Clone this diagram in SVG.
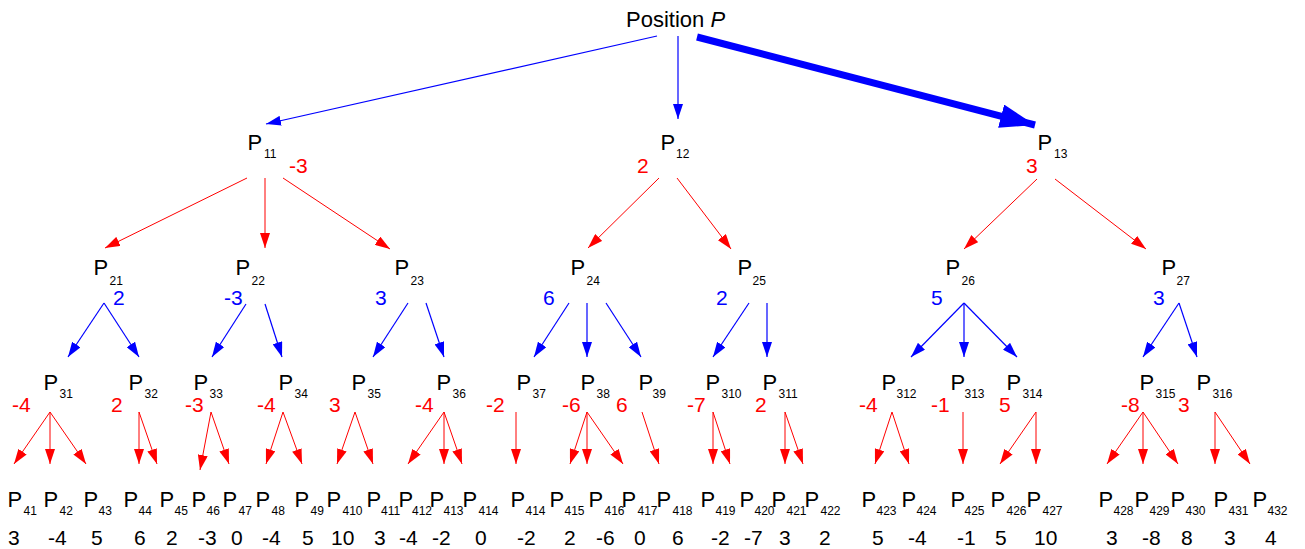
<svg xmlns="http://www.w3.org/2000/svg" width="1305" height="549" viewBox="0 0 1305 549">
<style>
text{font-family:"Liberation Sans",Arial,Helvetica,sans-serif}
.t{font-size:22px;fill:#000}
.p{font-size:22px;fill:#000}
.s{font-size:12px;fill:#000}
.vr{font-size:21px;fill:#f00}
.vb{font-size:21px;fill:#00f}
.vk{font-size:21px;fill:#000}
.lr{stroke:#f00;stroke-width:1;fill:none;marker-end:url(#ar)}
.lb{stroke:#00f;stroke-width:1.2;fill:none;marker-end:url(#ab)}
.lbig{stroke:#00f;stroke-width:7;fill:none;marker-end:url(#abig)}
</style>
<defs>
<marker id="ar" markerWidth="16" markerHeight="10" refX="15" refY="5" orient="auto" markerUnits="userSpaceOnUse"><path d="M0,0 L15,5 L0,10 z" fill="#f00"/></marker>
<marker id="ab" markerWidth="16" markerHeight="10" refX="15" refY="5" orient="auto" markerUnits="userSpaceOnUse"><path d="M0,0 L15,5 L0,10 z" fill="#00f"/></marker>
<marker id="abig" markerWidth="36" markerHeight="24" refX="35" refY="12" orient="auto" markerUnits="userSpaceOnUse"><path d="M0,0 L35,12 L0,24 z" fill="#00f"/></marker>
</defs>
<rect width="1305" height="549" fill="#fff"/>
<g id="connectors">
<line class="lb" x1="657" y1="36" x2="266" y2="124"/>
<line class="lb" x1="678" y1="36" x2="678" y2="119"/>
<line class="lbig" x1="697" y1="37" x2="1035" y2="125"/>
<line class="lr" x1="247" y1="178" x2="105" y2="248"/>
<line class="lr" x1="265" y1="178" x2="265" y2="248"/>
<line class="lr" x1="283" y1="178" x2="390" y2="249"/>
<line class="lr" x1="659" y1="178" x2="588" y2="248"/>
<line class="lr" x1="677" y1="178" x2="731" y2="249"/>
<line class="lr" x1="1037" y1="179" x2="964" y2="249"/>
<line class="lr" x1="1055" y1="179" x2="1146" y2="249"/>
<line class="lb" x1="104" y1="303" x2="68" y2="357"/>
<line class="lb" x1="104" y1="303" x2="139" y2="357"/>
<line class="lb" x1="246" y1="304" x2="212" y2="357"/>
<line class="lb" x1="265" y1="304" x2="282" y2="357"/>
<line class="lb" x1="408" y1="303" x2="373" y2="357"/>
<line class="lb" x1="426" y1="303" x2="444" y2="357"/>
<line class="lb" x1="569" y1="303" x2="534" y2="357"/>
<line class="lb" x1="587" y1="303" x2="587" y2="357"/>
<line class="lb" x1="606" y1="303" x2="641" y2="357"/>
<line class="lb" x1="749" y1="303" x2="713" y2="357"/>
<line class="lb" x1="767" y1="303" x2="767" y2="357"/>
<line class="lb" x1="964" y1="303" x2="911" y2="357"/>
<line class="lb" x1="964" y1="303" x2="964" y2="357"/>
<line class="lb" x1="964" y1="303" x2="1017" y2="357"/>
<line class="lb" x1="1179" y1="303" x2="1143" y2="357"/>
<line class="lb" x1="1179" y1="303" x2="1197" y2="357"/>
<line class="lr" x1="50" y1="412" x2="14" y2="464"/>
<line class="lr" x1="50" y1="412" x2="50" y2="464"/>
<line class="lr" x1="50" y1="412" x2="86" y2="464"/>
<line class="lr" x1="139" y1="412" x2="139" y2="464"/>
<line class="lr" x1="139" y1="412" x2="157" y2="464"/>
<line class="lr" x1="211" y1="412" x2="200" y2="470"/>
<line class="lr" x1="211" y1="412" x2="229" y2="464"/>
<line class="lr" x1="283" y1="412" x2="266" y2="464"/>
<line class="lr" x1="283" y1="412" x2="302" y2="464"/>
<line class="lr" x1="355" y1="412" x2="337" y2="464"/>
<line class="lr" x1="355" y1="412" x2="373" y2="464"/>
<line class="lr" x1="444" y1="412" x2="408" y2="464"/>
<line class="lr" x1="444" y1="412" x2="444" y2="464"/>
<line class="lr" x1="444" y1="412" x2="462" y2="464"/>
<line class="lr" x1="516" y1="412" x2="516" y2="464"/>
<line class="lr" x1="587" y1="412" x2="570" y2="464"/>
<line class="lr" x1="587" y1="412" x2="587" y2="464"/>
<line class="lr" x1="587" y1="412" x2="623" y2="464"/>
<line class="lr" x1="642" y1="412" x2="659" y2="464"/>
<line class="lr" x1="713" y1="412" x2="713" y2="464"/>
<line class="lr" x1="713" y1="412" x2="730" y2="464"/>
<line class="lr" x1="785" y1="412" x2="785" y2="464"/>
<line class="lr" x1="785" y1="412" x2="803" y2="464"/>
<line class="lr" x1="892" y1="412" x2="875" y2="464"/>
<line class="lr" x1="892" y1="412" x2="909" y2="464"/>
<line class="lr" x1="963" y1="412" x2="963" y2="464"/>
<line class="lr" x1="1036" y1="412" x2="1000" y2="464"/>
<line class="lr" x1="1036" y1="412" x2="1036" y2="464"/>
<line class="lr" x1="1143" y1="412" x2="1107" y2="464"/>
<line class="lr" x1="1143" y1="412" x2="1143" y2="464"/>
<line class="lr" x1="1143" y1="412" x2="1178" y2="464"/>
<line class="lr" x1="1215" y1="412" x2="1215" y2="464"/>
<line class="lr" x1="1215" y1="412" x2="1250" y2="464"/>
</g>
<g id="root"><text class="t" x="626" y="27">Position <tspan font-style="italic">P</tspan></text></g>
<g id="P11"><text class="p" x="247.5" y="150">P</text><text class="s" x="264" y="158">11</text><text class="vr" x="289" y="173">-3</text></g>
<g id="P12"><text class="p" x="660.5" y="150">P</text><text class="s" x="676" y="158">12</text><text class="vr" x="637" y="173">2</text></g>
<g id="P13"><text class="p" x="1037.5" y="150">P</text><text class="s" x="1054" y="158">13</text><text class="vr" x="1026" y="173">3</text></g>
<g id="P21"><text class="p" x="93.5" y="275">P</text><text class="s" x="109.5" y="285">21</text><text class="vb" x="113" y="305">2</text></g>
<g id="P22"><text class="p" x="235.5" y="275">P</text><text class="s" x="251.5" y="285">22</text><text class="vb" x="224" y="305">-3</text></g>
<g id="P23"><text class="p" x="394.5" y="275">P</text><text class="s" x="410.5" y="285">23</text><text class="vb" x="375" y="305">3</text></g>
<g id="P24"><text class="p" x="570.5" y="275">P</text><text class="s" x="586.5" y="285">24</text><text class="vb" x="543" y="305">6</text></g>
<g id="P25"><text class="p" x="737.5" y="275">P</text><text class="s" x="752.5" y="285">25</text><text class="vb" x="716" y="305">2</text></g>
<g id="P26"><text class="p" x="945.5" y="275">P</text><text class="s" x="961.5" y="285">26</text><text class="vb" x="931" y="305">5</text></g>
<g id="P27"><text class="p" x="1161.5" y="275">P</text><text class="s" x="1176.5" y="285">27</text><text class="vb" x="1153" y="305">3</text></g>
<g id="P31"><text class="p" x="43.5" y="390">P</text><text class="s" x="59.5" y="398">31</text><text class="vr" x="12" y="412">-4</text></g>
<g id="P32"><text class="p" x="128.5" y="390">P</text><text class="s" x="144.5" y="398">32</text><text class="vr" x="111" y="412">2</text></g>
<g id="P33"><text class="p" x="193.5" y="390">P</text><text class="s" x="209.5" y="398">33</text><text class="vr" x="185" y="412">-3</text></g>
<g id="P34"><text class="p" x="278.5" y="390">P</text><text class="s" x="294.5" y="398">34</text><text class="vr" x="257" y="412">-4</text></g>
<g id="P35"><text class="p" x="351.5" y="390">P</text><text class="s" x="367.5" y="398">35</text><text class="vr" x="329" y="412">3</text></g>
<g id="P36"><text class="p" x="436.5" y="390">P</text><text class="s" x="452.5" y="398">36</text><text class="vr" x="415" y="412">-4</text></g>
<g id="P37"><text class="p" x="516.5" y="390">P</text><text class="s" x="532.5" y="398">37</text><text class="vr" x="486" y="412">-2</text></g>
<g id="P38"><text class="p" x="580.5" y="390">P</text><text class="s" x="596.5" y="398">38</text><text class="vr" x="562" y="412">-6</text></g>
<g id="P39"><text class="p" x="638.5" y="390">P</text><text class="s" x="652.5" y="398">39</text><text class="vr" x="616" y="412">6</text></g>
<g id="P310"><text class="p" x="705.5" y="390">P</text><text class="s" x="721.5" y="398">310</text><text class="vr" x="687" y="412">-7</text></g>
<g id="P311"><text class="p" x="762.5" y="390">P</text><text class="s" x="778.5" y="398">311</text><text class="vr" x="755" y="412">2</text></g>
<g id="P312"><text class="p" x="881.5" y="390">P</text><text class="s" x="896.5" y="398">312</text><text class="vr" x="859" y="412">-4</text></g>
<g id="P313"><text class="p" x="950.5" y="390">P</text><text class="s" x="964.5" y="398">313</text><text class="vr" x="931" y="412">-1</text></g>
<g id="P314"><text class="p" x="1006.5" y="390">P</text><text class="s" x="1022.5" y="398">314</text><text class="vr" x="999" y="412">5</text></g>
<g id="P315"><text class="p" x="1139.5" y="390">P</text><text class="s" x="1155.5" y="398">315</text><text class="vr" x="1121" y="412">-8</text></g>
<g id="P316"><text class="p" x="1196.5" y="390">P</text><text class="s" x="1212.5" y="398">316</text><text class="vr" x="1178" y="412">3</text></g>
<g id="P41"><text class="p" x="7.5" y="507">P</text><text class="s" x="23.5" y="515">41</text><text class="vk" x="8" y="545">3</text></g>
<g id="P42"><text class="p" x="43.5" y="507">P</text><text class="s" x="59.5" y="515">42</text><text class="vk" x="48" y="545">-4</text></g>
<g id="P43"><text class="p" x="83.5" y="507">P</text><text class="s" x="98.5" y="515">43</text><text class="vk" x="91" y="545">5</text></g>
<g id="P44"><text class="p" x="123.5" y="507">P</text><text class="s" x="138.5" y="515">44</text><text class="vk" x="134" y="545">6</text></g>
<g id="P45"><text class="p" x="159.5" y="507">P</text><text class="s" x="174.5" y="515">45</text><text class="vk" x="166" y="545">2</text></g>
<g id="P46"><text class="p" x="191.5" y="507">P</text><text class="s" x="206.5" y="515">46</text><text class="vk" x="198" y="545">-3</text></g>
<g id="P47"><text class="p" x="222.5" y="507">P</text><text class="s" x="238.5" y="515">47</text><text class="vk" x="231" y="545">0</text></g>
<g id="P48"><text class="p" x="255.5" y="507">P</text><text class="s" x="271.5" y="515">48</text><text class="vk" x="262" y="545">-4</text></g>
<g id="P49"><text class="p" x="294.5" y="507">P</text><text class="s" x="310.5" y="515">49</text><text class="vk" x="302" y="545">5</text></g>
<g id="P410"><text class="p" x="326.5" y="507">P</text><text class="s" x="342.5" y="515">410</text><text class="vk" x="331" y="545">10</text></g>
<g id="P411"><text class="p" x="366.5" y="507">P</text><text class="s" x="381" y="515" font-size="10.5">411</text><text class="vk" x="374" y="545">3</text></g>
<g id="P412"><text class="p" x="398.5" y="507">P</text><text class="s" x="412" y="515" font-size="10.5">412</text><text class="vk" x="399" y="545">-4</text></g>
<g id="P413"><text class="p" x="429.5" y="507">P</text><text class="s" x="443.5" y="515" font-size="10.5">413</text><text class="vk" x="432" y="545">-2</text></g>
<g id="P414a"><text class="p" x="462.5" y="507">P</text><text class="s" x="478.5" y="515">414</text><text class="vk" x="475" y="545">0</text></g>
<g id="P414b"><text class="p" x="510.5" y="507">P</text><text class="s" x="525.5" y="515">414</text><text class="vk" x="517" y="545">-2</text></g>
<g id="P415"><text class="p" x="549.5" y="507">P</text><text class="s" x="564.5" y="515">415</text><text class="vk" x="564" y="545">2</text></g>
<g id="P416"><text class="p" x="588.5" y="507">P</text><text class="s" x="604.5" y="515">416</text><text class="vk" x="596" y="545">-6</text></g>
<g id="P417"><text class="p" x="621.5" y="507">P</text><text class="s" x="637.5" y="515">417</text><text class="vk" x="634" y="545">0</text></g>
<g id="P418"><text class="p" x="656.5" y="507">P</text><text class="s" x="672.5" y="515">418</text><text class="vk" x="672" y="545">6</text></g>
<g id="P419"><text class="p" x="700.5" y="507">P</text><text class="s" x="715.5" y="515">419</text><text class="vk" x="711" y="545">-2</text></g>
<g id="P420"><text class="p" x="739.5" y="507">P</text><text class="s" x="754.5" y="515">420</text><text class="vk" x="744" y="545">-7</text></g>
<g id="P421"><text class="p" x="771.5" y="507">P</text><text class="s" x="786.5" y="515">421</text><text class="vk" x="779" y="545">3</text></g>
<g id="P422"><text class="p" x="804.5" y="507">P</text><text class="s" x="820.5" y="515">422</text><text class="vk" x="819" y="545">2</text></g>
<g id="P423"><text class="p" x="861.5" y="507">P</text><text class="s" x="876.5" y="515">423</text><text class="vk" x="872" y="545">5</text></g>
<g id="P424"><text class="p" x="901.5" y="507">P</text><text class="s" x="916.5" y="515">424</text><text class="vk" x="908" y="545">-4</text></g>
<g id="P425"><text class="p" x="950.5" y="507">P</text><text class="s" x="964.5" y="515">425</text><text class="vk" x="957" y="545">-1</text></g>
<g id="P426"><text class="p" x="990.5" y="507">P</text><text class="s" x="1006.5" y="515">426</text><text class="vk" x="995" y="545">5</text></g>
<g id="P427"><text class="p" x="1026.5" y="507">P</text><text class="s" x="1042.5" y="515">427</text><text class="vk" x="1034" y="545">10</text></g>
<g id="P428"><text class="p" x="1098.5" y="507">P</text><text class="s" x="1113.5" y="515">428</text><text class="vk" x="1106" y="545">3</text></g>
<g id="P429"><text class="p" x="1134.5" y="507">P</text><text class="s" x="1149.5" y="515">429</text><text class="vk" x="1142" y="545">-8</text></g>
<g id="P430"><text class="p" x="1170.5" y="507">P</text><text class="s" x="1185.5" y="515">430</text><text class="vk" x="1181" y="545">8</text></g>
<g id="P431"><text class="p" x="1213.5" y="507">P</text><text class="s" x="1228.5" y="515">431</text><text class="vk" x="1224" y="545">3</text></g>
<g id="P432"><text class="p" x="1252.5" y="507">P</text><text class="s" x="1267.5" y="515">432</text><text class="vk" x="1265" y="545">4</text></g>
</svg>
